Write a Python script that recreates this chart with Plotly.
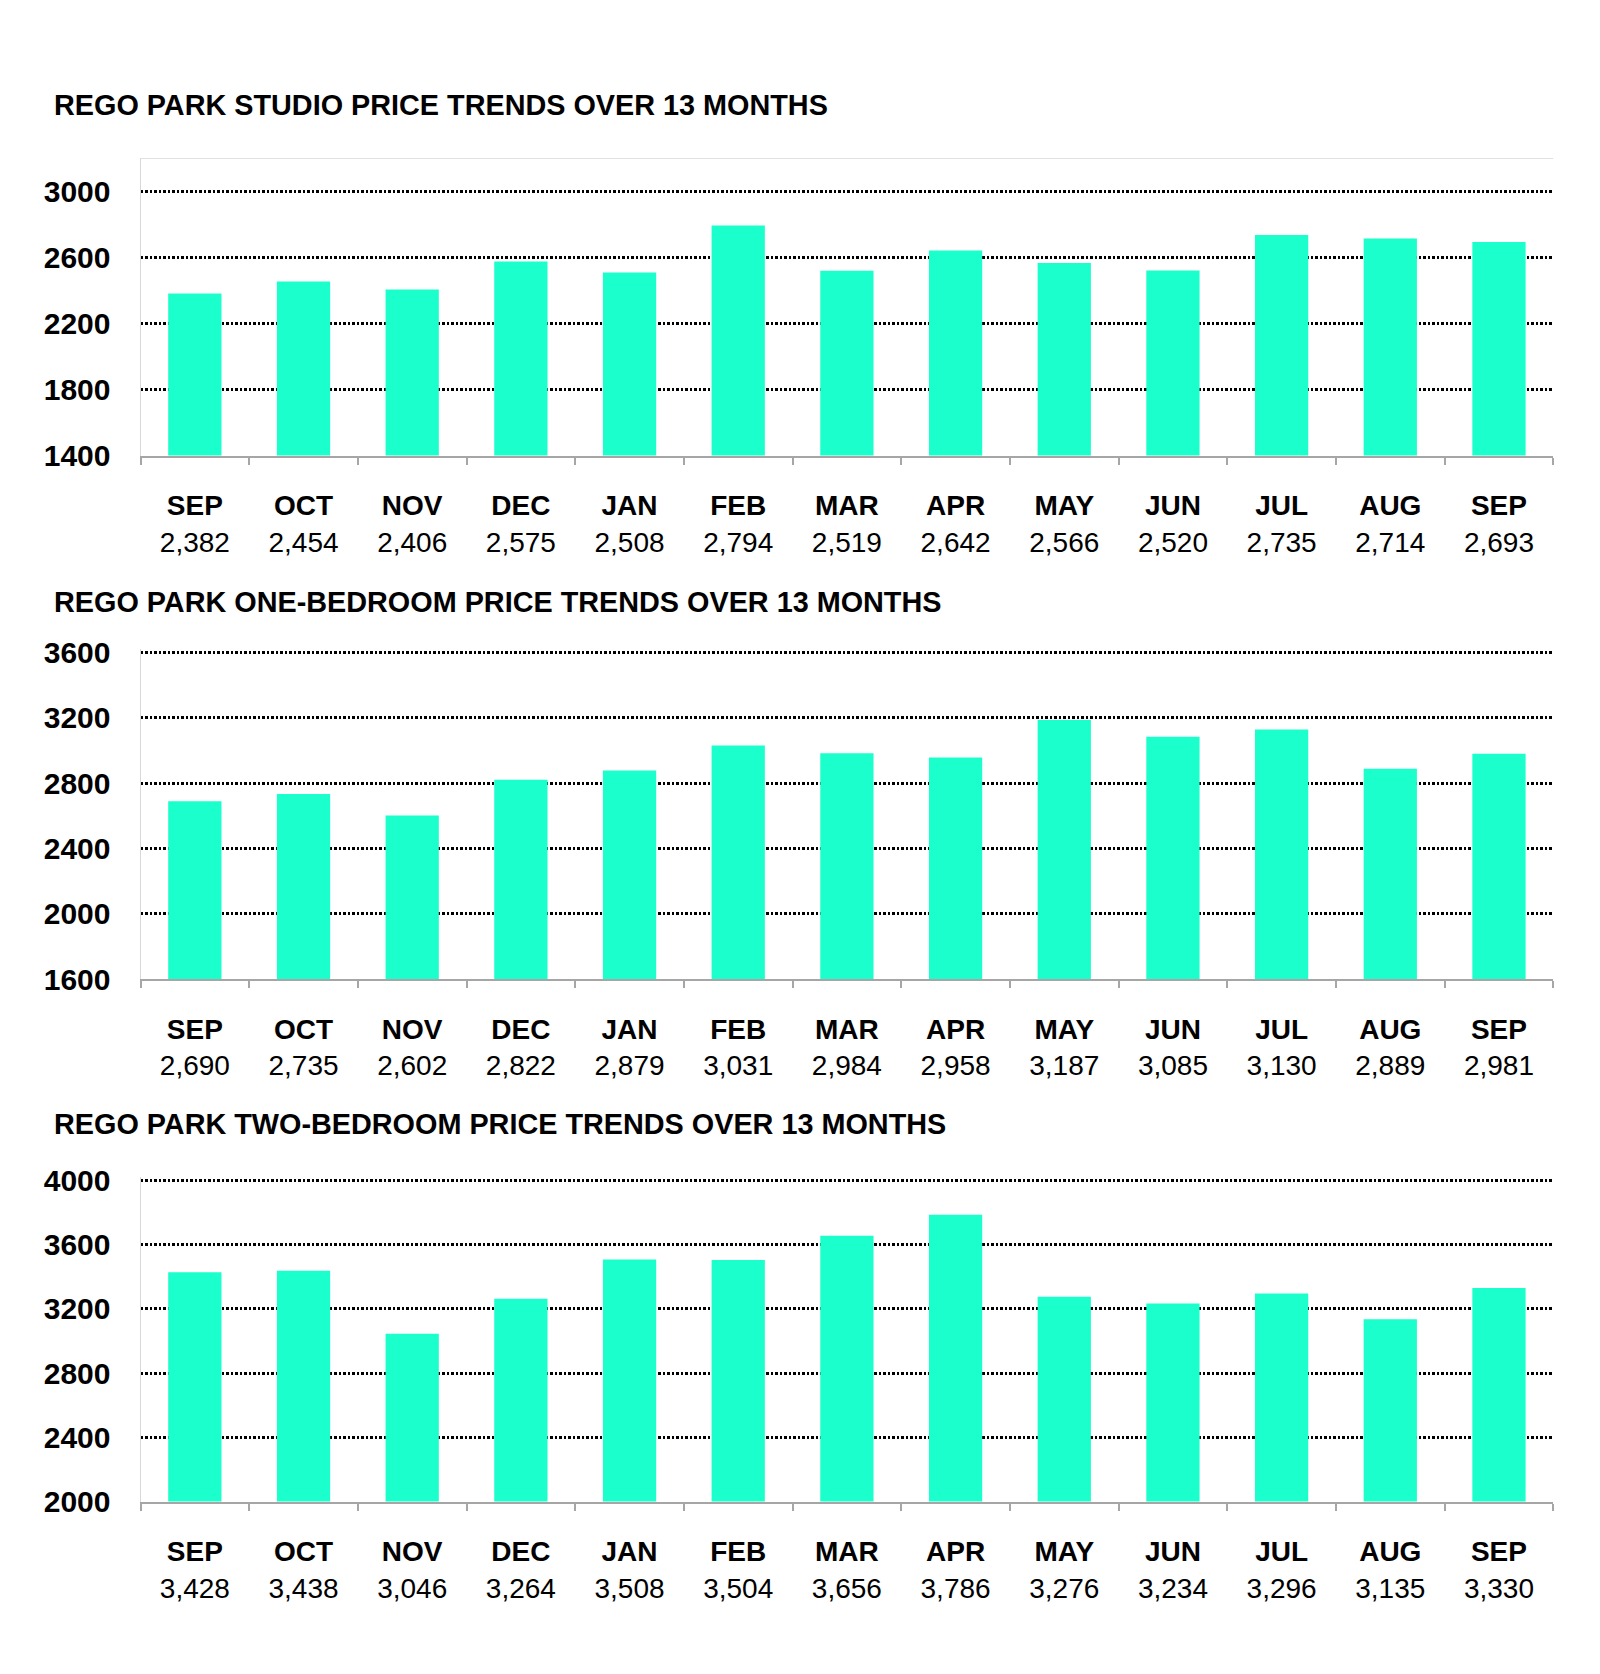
import plotly.graph_objects as go

months = ["SEP", "OCT", "NOV", "DEC", "JAN", "FEB", "MAR", "APR", "MAY", "JUN", "JUL", "AUG", "SEP"]
period_keys = [f"p{i}" for i in range(len(months))]

studio_values = [2382, 2454, 2406, 2575, 2508, 2794, 2519, 2642, 2566, 2520, 2735, 2714, 2693]
one_bed_values = [2690, 2735, 2602, 2822, 2879, 3031, 2984, 2958, 3187, 3085, 3130, 2889, 2981]
two_bed_values = [3428, 3438, 3046, 3264, 3508, 3504, 3656, 3786, 3276, 3234, 3296, 3135, 3330]

titles = [
    "REGO PARK STUDIO PRICE TRENDS OVER 13 MONTHS",
    "REGO PARK ONE-BEDROOM PRICE TRENDS OVER 13 MONTHS",
    "REGO PARK TWO-BEDROOM PRICE TRENDS OVER 13 MONTHS",
]
y_ticks = [
    [1400, 1800, 2200, 2600, 3000],
    [1600, 2000, 2400, 2800, 3200, 3600],
    [2000, 2400, 2800, 3200, 3600, 4000],
]
y_ranges = [[1400, 3200], [1600, 3625], [2000, 4022]]

# page placement: final_x = OX + fig_x ; final_y = AY + BY * fig_y
OX = 8
AY, BY = 20.7, 0.9835
W, H = 1584, 1640
BAR_COLOR = "#1AFFCC"
FONT = "Liberation Sans, Arial, sans-serif"

# calibration in final picture pixels: (value_a, px_a, value_b, px_b)
calib = [(3200, 158.3, 1400, 456.0), (3600, 653.5, 1600, 980.7), (4000, 1182.3, 2000, 1504.0)]
title_px = [105, 603, 1126]
x_left_px, x_right_px = 140.5, 1553.3
title_x_px = 52


def fy(px):
    return 1 - ((px - AY) / BY) / H


def fx(px):
    return (px - OX) / W


def dom(i):
    va, pa, vb, pb = calib[i]
    s = (pb - pa) / (vb - va)
    r0, r1 = y_ranges[i]
    return [fy(pa + (r0 - va) * s), fy(pa + (r1 - va) * s)]


fig = go.Figure()
series = [studio_values, one_bed_values, two_bed_values]
layout = dict(
    width=W, height=H,
    margin=dict(l=0, r=0, t=0, b=0),
    paper_bgcolor="white", plot_bgcolor="white",
    showlegend=False,
    font=dict(family=FONT, color="black"),
    annotations=[], shapes=[],
)

for i, vals in enumerate(series):
    sfx = "" if i == 0 else str(i + 1)
    xa, ya = "x" + sfx, "y" + sfx
    fig.add_trace(go.Bar(x=period_keys, y=vals, marker=dict(color=BAR_COLOR, line=dict(width=0)),
                         xaxis=xa, yaxis=ya, width=0.49, hoverinfo="skip"))
    ticktext = [f"<b>{m}</b><br>{v:,}" for m, v in zip(months, vals)]
    layout["xaxis" + sfx] = dict(
        type="category", domain=[fx(x_left_px), fx(x_right_px)], anchor=ya,
        tickvals=period_keys, ticktext=ticktext, tickson="boundaries",
        ticks="outside", ticklen=7, tickwidth=2, tickcolor="#A6A6A6",
        showline=True, linecolor="#A6A6A6", linewidth=2,
        showgrid=False, zeroline=False,
        tickfont=dict(family=FONT, size=28, color="black"),
        ticklabelstandoff=24,
        fixedrange=True,
    )
    layout["yaxis" + sfx] = dict(
        domain=dom(i), anchor=xa, range=y_ranges[i],
        tickvals=y_ticks[i], ticktext=[f"<b>{t}</b>" for t in y_ticks[i]],
        showgrid=True, gridcolor="black", gridwidth=2.5, griddash="2.5px,2px",
        showline=True, linecolor="#D9D9D9", linewidth=1,
        zeroline=False, ticks="",
        tickfont=dict(family=FONT, size=30, color="black"),
        ticklabelstandoff=23,
        fixedrange=True,
    )
    layout["annotations"].append(dict(
        text=f"<b>{titles[i]}</b>", x=fx(title_x_px), y=fy(title_px[i]), xref="paper", yref="paper",
        xanchor="left", yanchor="middle", showarrow=False,
        font=dict(family=FONT, size=28.8, color="black"),
    ))

# light grey top border of the first plot area (at the axis maximum)
layout["shapes"].append(dict(
    type="line", xref="x domain", yref="y", x0=0, x1=1, y0=y_ranges[0][1], y1=y_ranges[0][1],
    line=dict(color="#D9D9D9", width=1.5),
))

fig.update_layout(**layout)
fig.write_html("out.html")
